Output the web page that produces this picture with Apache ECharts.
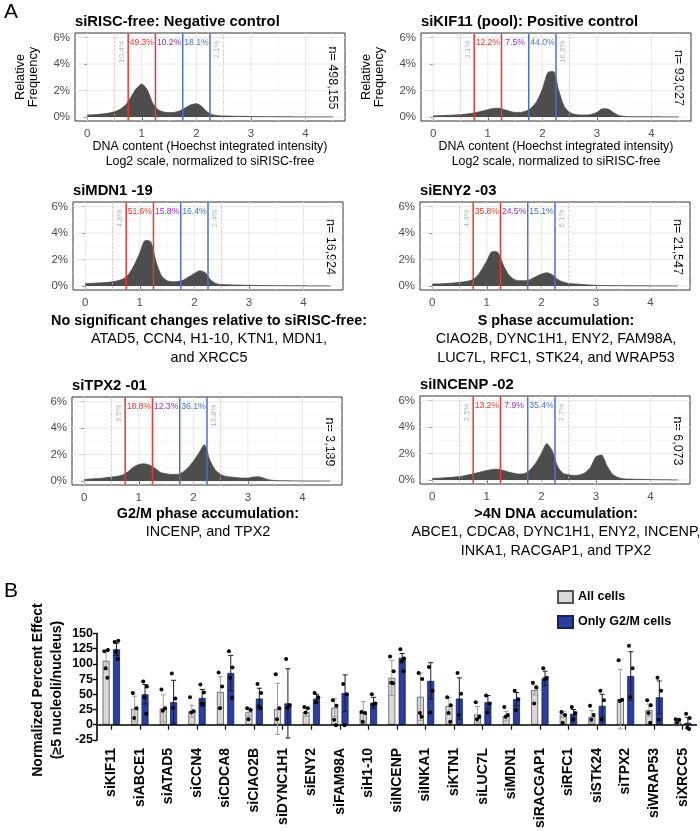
<!DOCTYPE html>
<html><head><meta charset="utf-8">
<script src="https://cdn.jsdelivr.net/npm/echarts@6/dist/echarts.min.js"></script>
<style>html,body{margin:0;padding:0;background:#fff}#c{width:700px;height:831px}</style>
</head><body><div id="c"></div>
<script>
// ---------------- DATA ----------------
const binX = [0,0.1,0.2,0.3,0.4,0.5,0.6,0.7,0.8,0.9,1,1.1,1.2,1.3,1.4,1.5,1.6,1.7,1.8,1.9,2,2.1,2.2,2.3,2.4,2.5,2.6,2.7,2.8,2.9,3,3.1,3.2,3.3,3.4,3.5,3.6,3.7,3.8,3.9,4,4.1,4.2,4.3,4.4,4.5];
const histRISC = [0.15,0.17,0.2,0.24,0.3,0.4,0.58,0.9,1.5,2.15,2.5,2.05,1.05,0.55,0.38,0.33,0.36,0.48,0.7,0.92,1.0,0.8,0.38,0.17,0.1,0.08,0.07,0.06,0.05,0.05,0.04,0.04,0.03,0.03,0.03,0.02,0.02,0.02,0.01,0.01,0.01,0.01,0.01,0.01,0.01,0.01];
const histKIF11 = [0.1,0.1,0.12,0.13,0.15,0.18,0.22,0.28,0.35,0.45,0.55,0.65,0.66,0.56,0.43,0.35,0.35,0.45,0.7,1.2,2.1,3.35,3.45,2.0,0.8,0.35,0.2,0.15,0.15,0.2,0.35,0.62,0.6,0.35,0.12,0.05,0.03,0.02,0.02,0.02,0.02,0.02,0.01,0.01,0.01,0.01];
const histMDN1 = [0.2,0.2,0.22,0.24,0.27,0.32,0.4,0.55,0.9,1.6,2.5,3.45,3.35,1.8,0.75,0.4,0.32,0.35,0.45,0.7,0.95,1.15,1.0,0.45,0.18,0.12,0.09,0.08,0.07,0.06,0.05,0.05,0.04,0.04,0.03,0.03,0.03,0.02,0.02,0.02,0.02,0.01,0.01,0.01,0.01,0.01];
const histENY2 = [0.15,0.16,0.18,0.2,0.23,0.28,0.33,0.42,0.65,1.2,1.9,2.6,2.55,1.6,0.85,0.5,0.4,0.4,0.5,0.7,0.9,1.0,0.85,0.5,0.3,0.2,0.16,0.14,0.1,0.07,0.05,0.04,0.04,0.03,0.03,0.03,0.02,0.02,0.02,0.02,0.01,0.01,0.01,0.01,0.01,0.01];
const histTPX2 = [0.12,0.15,0.18,0.2,0.25,0.3,0.35,0.45,0.7,1.05,1.25,1.3,1.2,0.95,0.65,0.55,0.5,0.5,0.65,1.0,1.5,2.1,2.75,1.6,0.85,0.5,0.35,0.3,0.25,0.22,0.22,0.3,0.32,0.2,0.08,0.04,0.02,0.02,0.01,0.01,0.01,0,0,0,0,0];
const histINCENP = [0.12,0.14,0.16,0.19,0.22,0.27,0.33,0.42,0.52,0.62,0.72,0.8,0.82,0.72,0.6,0.5,0.45,0.5,0.8,1.3,2.0,2.75,2.2,1.0,0.5,0.4,0.35,0.38,0.55,0.95,1.75,1.9,1.1,0.45,0.2,0.1,0.07,0.06,0.05,0.04,0.03,0.03,0.02,0.02,0.01,0.01];
const panelTitles = ['siRISC-free: Negative control','siKIF11 (pool): Positive control','siMDN1 -19','siENY2 -03','siTPX2 -01','siINCENP -02'];
const panelN = ['n= 498,155','n= 93,027','n= 16,924','n= 21,547','n= 3,189','n= 6,073'];
const panelPct = [
  ['10.4%','49.3%','10.2%','18.1%','2.1%'],
  ['2.1%','12.2%','7.5%','44.0%','16.6%'],
  ['4.8%','51.6%','15.8%','16.4%','2.4%'],
  ['4.4%','35.8%','24.5%','15.1%','6.1%'],
  ['3.5%','18.8%','12.3%','36.1%','13.8%'],
  ['2.5%','13.2%','7.9%','35.4%','7.7%']
];
const hists = [histRISC, histKIF11, histMDN1, histENY2, histTPX2, histINCENP];
const gateLines = [0.5, 0.75, 1.25, 1.75, 2.25, 2.5];      // gate positions (x, log2)
const gateKinds = [0, 1, 1, 2, 2, 0];                      // 0 dotted, 1 red, 2 blue
const pctLabelX = [0.625, 1.0, 1.5, 2.0, 2.375];
const xTicksA = [0,1,2,3,4];
const yTicksA = [0,2,4,6];

const cats = ['siKIF11','siABCE1','siATAD5','siCCN4','siCDCA8','siCIAO2B','siDYNC1H1','siENY2','siFAM98A','siH1-10','siINCENP','siINKA1','siKTN1','siLUC7L','siMDN1','siRACGAP1','siRFC1','siSTK24','siTPX2','siWRAP53','siXRCC5'];
const allMean = [105,26,27,22,54,21,26,21,28,21,77,46,31,17,14,57,17,13,42,24,5];
const allSD   = [15,21,22,10,25,7,42,7,15,17,29,39,14,13,8,8,5,10,49,10,4];
const g2mMean = [124,50,37,44,85,43,35,43,52,36,110,72,43,37,42,76,18,31,80,45,3];
const g2mSD   = [10,16,36,14,29,17,57,7,30,9,7,30,34,11,11,12,7,19,40,27,9];
const allDots = [[121,123,93,77],[52,27,11],[58,27,23],[45,22,20],[86,63,27],[27,24,9],[83,27,9],[29,27,20],[40,31,8,-1],[21,19,5],[112,88,69,68],[85,75,19,13],[45,32,19,5],[37,13,9],[29,16,13],[69,61,35],[21,16,3],[31,16,8],[106,41,39],[40,32,19,3],[9,8,3]];
const g2mDots = [[136,138,120,108],[71,63,45,18],[84,43,28],[66,53,35,34],[121,94,77,44],[67,52,30,27],[108,32,28],[52,45,37],[67,50,-1],[50,35,33],[124,109,104,88],[95,56,20],[85,51,16],[48,35,20],[56,42,24],[93,77,75],[29,19,8],[56,40,8],[130,93,45],[77,56,8],[18,11,-5,-7]];
const yTicksB = {min:-25, max:150, interval:25};

// ---------------- LAYOUT / STYLE ----------------
const FONT = "'Liberation Sans', Arial, Helvetica, sans-serif";
const layoutA = [[75,33],[421,33],[73,202],[420,202],[72,397],[420,396]];
const PW = 270, PH = 88;
const BAR_W = 7, GAP_RATIO = 0.48;
const GROUP_OFF = (BAR_W + BAR_W*GAP_RATIO)/2;
const jitter = [-1.8, 1.8, -0.5, 1.2];
const gateStyle = [
  {stroke:'#f2a5a5', lineWidth:0.8, lineDash:[2,2]},
  {stroke:'#e8382f', lineWidth:1.5},
  {stroke:'#4a72c8', lineWidth:1.5}
];
const pctColors = ['#b5b5b5','#e8382f','#9b30c0','#4a72c8','#b5b5b5'];

const grids=[], xAxes=[], yAxes=[], series=[], graphics=[];

function gridLineData(){
  const d=[];
  [0,1,2,3,4].forEach(v=>d.push([v,0,1]));
  [0.5,1.5,2.5,3.5,4.5].forEach(v=>d.push([v,0,0]));
  [0,2,4,6].forEach(v=>d.push([v,1,1]));
  [1,3,5].forEach(v=>d.push([v,1,0]));
  return d;
}

hists.forEach((h,i)=>{
  const [L,T] = layoutA[i];
  grids.push({left:L, top:T, width:PW, height:PH, show:true, backgroundColor:'#fff', borderColor:'#333', borderWidth:1});
  xAxes.push({gridIndex:i, type:'value', min:-0.225, max:4.725,
    axisLine:{show:false}, splitLine:{show:false},
    axisTick:{show:true, customValues:xTicksA, length:3, lineStyle:{color:'#333'}},
    axisLabel:{customValues:xTicksA, color:'#4d4d4d', fontSize:11.5, margin:7, fontFamily:FONT}});
  yAxes.push({gridIndex:i, type:'value', min:-0.3, max:6.35,
    axisLine:{show:false}, splitLine:{show:false},
    axisTick:{show:true, customValues:yTicksA, length:3, lineStyle:{color:'#333'}},
    axisLabel:{customValues:yTicksA, formatter:'{value}%', color:'#4d4d4d', fontSize:11.5, margin:5, fontFamily:FONT}});
  series.push({type:'custom', xAxisIndex:i, yAxisIndex:i, z:1, silent:true, data:gridLineData(),
    renderItem:(params, api)=>{
      const cs = params.coordSys, v = api.value(0), o = api.value(1), k = api.value(2);
      const st = {stroke: k ? '#e4e4e4' : '#f1f1f1', lineWidth: k ? 0.9 : 0.6};
      if (o===0){ const x = api.coord([v,0])[0]; return {type:'line', shape:{x1:x,y1:cs.y,x2:x,y2:cs.y+cs.height}, style:st}; }
      const y = api.coord([0,v])[1]; return {type:'line', shape:{x1:cs.x,y1:y,x2:cs.x+cs.width,y2:y}, style:st};
    }});
  series.push({type:'line', xAxisIndex:i, yAxisIndex:i, z:2, silent:true, smooth:0.25, showSymbol:false,
    data: binX.map((x,j)=>[x,h[j]]),
    lineStyle:{color:'#4d4d4d', width:0.8}, areaStyle:{color:'#4d4d4d', opacity:1}});
  series.push({type:'custom', xAxisIndex:i, yAxisIndex:i, z:3, silent:true,
    data: gateLines.map((v,j)=>[v, gateKinds[j]]),
    renderItem:(params, api)=>{
      const cs = params.coordSys, x = api.coord([api.value(0),0])[0];
      return {type:'line', shape:{x1:x,y1:cs.y+0.5,x2:x,y2:cs.y+cs.height-0.5}, style:Object.assign({}, gateStyle[api.value(1)])};
    }});
  series.push({type:'custom', xAxisIndex:i, yAxisIndex:i, z:4, silent:true,
    data: pctLabelX.map((x,j)=>[x, j]),
    renderItem:(params, api)=>{
      const j = api.value(1);
      const rot = (j===0 || j===4);
      const p = api.coord([api.value(0), rot ? 5.8 : 5.63]);
      return {type:'text', x:p[0], y:p[1], rotation: rot ? Math.PI/2 : 0,
        style:{text: panelPct[i][j], fill: pctColors[j], fontSize: rot ? 8 : 8.6, fontFamily:FONT,
          align: rot ? 'right' : 'center', verticalAlign:'middle'}};
    }});
  graphics.push({type:'text', x:L, y:T-11, style:{text:panelTitles[i], fontSize:14.8, fontWeight:'bold', fill:'#000', fontFamily:FONT, align:'left', verticalAlign:'middle'}});
  graphics.push({type:'text', x:L+PW-13, y:T+45, rotation:-Math.PI/2, style:{text:panelN[i], fontSize:12.5, fill:'#000', fontFamily:FONT, align:'center', verticalAlign:'middle'}});
  if (i<2){
    graphics.push({type:'text', x:L-48, y:T+PH/2, rotation:Math.PI/2, style:{text:'Relative\nFrequency', fontSize:12.8, lineHeight:13, fill:'#000', fontFamily:FONT, align:'center', verticalAlign:'middle'}});
    graphics.push({type:'text', x:L+PW/2, y:T+PH+26, style:{text:'DNA content (Hoechst integrated intensity)', fontSize:12.4, fill:'#000', fontFamily:FONT, align:'center', verticalAlign:'middle'}});
    graphics.push({type:'text', x:L+PW/2, y:T+PH+41, style:{text:'Log2 scale, normalized to siRISC-free', fontSize:12.4, fill:'#000', fontFamily:FONT, align:'center', verticalAlign:'middle'}});
  }
});

function caption(x, y, lines){
  lines.forEach((t,k)=>{
    graphics.push({type:'text', x:x, y:y+k*18.5, style:{text:t, fontSize:14.4, fontWeight: k===0?'bold':'normal', fill:'#000', fontFamily:FONT, align:'center', verticalAlign:'middle'}});
  });
}
caption(209, 321, ['No significant changes relative to siRISC-free:','ATAD5, CCN4, H1-10, KTN1, MDN1,','and XRCC5']);
caption(556, 321, ['S phase accumulation:','CIAO2B, DYNC1H1, ENY2, FAM98A,','LUC7L, RFC1, STK24, and WRAP53']);
caption(208, 514, ['G2/M phase accumulation:','INCENP, and TPX2']);
caption(556, 514, ['>4N DNA accumulation:','ABCE1, CDCA8, DYNC1H1, ENY2, INCENP,','INKA1, RACGAP1, and TPX2']);
graphics.push({type:'text', x:4, y:12, style:{text:'A', fontSize:21, fill:'#000', fontFamily:FONT, verticalAlign:'middle'}});
graphics.push({type:'text', x:4, y:591, style:{text:'B', fontSize:21, fill:'#000', fontFamily:FONT, verticalAlign:'middle'}});
graphics.push({type:'text', x:48, y:690, rotation:Math.PI/2, style:{text:'Normalized Percent Effect\n(≥5 nucleoli/nucleus)', fontSize:14, lineHeight:19, fontWeight:'bold', fill:'#000', fontFamily:FONT, align:'center', verticalAlign:'middle'}});

// ---------------- PANEL B ----------------
const gB = grids.length;
grids.push({left:97, top:633.5, width:600, height:110});
xAxes.push({gridIndex:gB, type:'category', data:cats,
  axisLine:{show:false},
  axisTick:{show:true, alignWithLabel:true, length:5, lineStyle:{color:'#000', width:1.2}},
  axisLabel:{rotate:90, interval:0, fontWeight:'bold', fontSize:14, color:'#000', margin:8, fontFamily:FONT}});
yAxes.push({gridIndex:gB, type:'value', min:yTicksB.min, max:yTicksB.max, interval:yTicksB.interval,
  axisLine:{show:true, lineStyle:{color:'#000', width:1.6}},
  axisTick:{show:true, length:4, lineStyle:{color:'#000', width:1.4}},
  splitLine:{show:false},
  axisLabel:{fontWeight:'bold', fontSize:12.5, color:'#000', margin:4, fontFamily:FONT}});
series.push({name:'All cells', type:'bar', xAxisIndex:gB, yAxisIndex:gB, data:allMean, barWidth:BAR_W, barGap:(GAP_RATIO*100)+'%',
  itemStyle:{color:'#d9d9d9', borderColor:'#555', borderWidth:0.8}, z:2,
  markLine:{silent:true, symbol:'none', label:{show:false}, lineStyle:{color:'#000', width:1.5, type:'solid'}, data:[{yAxis:0}]}});
series.push({name:'Only G2/M cells', type:'bar', xAxisIndex:gB, yAxisIndex:gB, data:g2mMean, barWidth:BAR_W,
  itemStyle:{color:'#2b3f9d', borderColor:'#17215e', borderWidth:0.8}, z:2});
const errData = [];
cats.forEach((c,ci)=>{ errData.push([ci, allMean[ci], allSD[ci], 0]); errData.push([ci, g2mMean[ci], g2mSD[ci], 1]); });
series.push({type:'custom', xAxisIndex:gB, yAxisIndex:gB, z:5, silent:true, data:errData,
  renderItem:(params, api)=>{
    const ci=api.value(0), m=api.value(1), sd=api.value(2), g=api.value(3);
    const cx = api.coord([ci,m])[0] + (g===0 ? -GROUP_OFF : GROUP_OFF);
    const yt = api.coord([ci,m+sd])[1], yb = api.coord([ci,m-sd])[1];
    const st = {stroke: g===0 ? '#9c9c9c' : '#15183a', lineWidth:1};
    return {type:'group', children:[
      {type:'line', shape:{x1:cx,y1:yt,x2:cx,y2:yb}, style:st},
      {type:'line', shape:{x1:cx-2.5,y1:yt,x2:cx+2.5,y2:yt}, style:st},
      {type:'line', shape:{x1:cx-2.5,y1:yb,x2:cx+2.5,y2:yb}, style:st}
    ]};
  }});
const dotData = [];
cats.forEach((c,ci)=>{
  allDots[ci].forEach((v,k)=>dotData.push([ci, v, 0, k]));
  g2mDots[ci].forEach((v,k)=>dotData.push([ci, v, 1, k]));
});
series.push({type:'custom', xAxisIndex:gB, yAxisIndex:gB, z:6, silent:true, data:dotData,
  renderItem:(params, api)=>{
    const ci=api.value(0), v=api.value(1), g=api.value(2), k=api.value(3);
    const p = api.coord([ci,v]);
    const cx = p[0] + (g===0 ? -GROUP_OFF : GROUP_OFF) + jitter[k % jitter.length];
    return {type:'circle', shape:{cx:cx, cy:p[1], r:2}, style:{fill:'#000'}};
  }});

const chart = echarts.init(document.getElementById('c'), null, {renderer:'canvas'});
chart.setOption({
  animation:false,
  textStyle:{fontFamily:FONT},
  grid:grids, xAxis:xAxes, yAxis:yAxes, series:series,
  legend:{data:['All cells','Only G2/M cells'], orient:'vertical', left:557, top:590, itemWidth:15, itemHeight:12, itemGap:11, icon:'rect', padding:0,
    textStyle:{fontWeight:'bold', fontSize:12.5, color:'#000', fontFamily:FONT}, selectedMode:false},
  graphic:graphics
});
</script></body></html>
